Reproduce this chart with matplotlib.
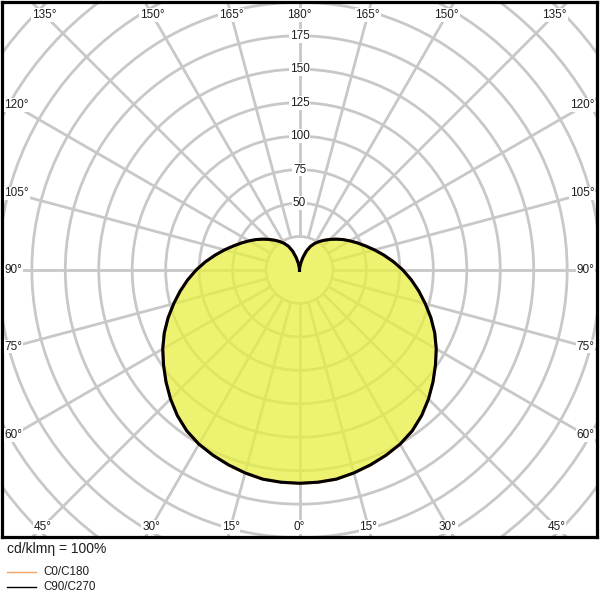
import numpy as np
import matplotlib
matplotlib.use("Agg")
import matplotlib.pyplot as plt
from matplotlib.patches import Circle

plt.rcParams['font.family'] = ['Liberation Sans', 'DejaVu Sans']

######### Data #########

# gamma = 0 is straight down, 180 straight up; values in cd/klm
gamma = [0, 5, 10, 15, 20, 25, 30, 35, 40, 45, 50, 55, 60, 65, 70, 75, 80, 85, 90,
         95, 100, 105, 110, 115, 120, 125, 130, 135, 140, 145, 150, 155, 160, 165,
         170, 175, 180]
c0_c180 = [159.4, 159.2, 158.7, 157, 155, 152.8, 150.3, 146.8, 142, 136.3, 130.2,
           124, 118, 111.5, 104.5, 97.3, 90.5, 83.8, 77.2, 70.5, 64, 58, 52.5, 47.8,
           43.5, 39.6, 35.8, 32.3, 29, 26, 23, 19.5, 15, 9.5, 5, 2, 0]
c90_c270 = [159.4, 159.2, 158.7, 157, 155, 152.8, 150.3, 146.8, 142, 136.3, 130.2,
            124, 118, 111.5, 104.5, 97.3, 90.5, 83.8, 77.2, 70.5, 64, 58, 52.5, 47.8,
            43.5, 39.6, 35.8, 32.3, 29, 26, 23, 19.5, 15, 9.5, 5, 2, 0]

rings = list(range(25, 325, 25))
ring_labels = [50, 75, 100, 125, 150, 175]
spokes = list(range(0, 360, 15))
top_labels = [135, 150, 165, 180]
side_labels = [120, 105, 90, 75, 60]
bottom_labels = [0, 15, 30, 45]

grid_col = '#c8c8c8'
text_col = '#1e1e1e'


def to_xy(g, r):
    # both halves of the plane, mirrored
    g = np.asarray(g, float)
    r = np.asarray(r, float)
    gg = np.concatenate([-g[::-1], g[1:]])
    rr = np.concatenate([r[::-1], r[1:]])
    t = np.radians(gg)
    return rr * np.sin(t), -rr * np.cos(t)


fig = plt.figure(figsize=(6, 6), dpi=100)
ax = fig.add_axes([2 / 600, 63 / 600, 595 / 600, 535 / 600])
ax.set_xlim(-222.3, 222.3)
ax.set_ylim(-199.5, 200.2)
ax.set_aspect('equal')
ax.set_xticks([])
ax.set_yticks([])
for s in ax.spines.values():
    s.set_color('black')
    s.set_linewidth(2.3)

######### Grid #########
for r in rings:
    ax.add_patch(Circle((0, 0), r, fill=False, ec=grid_col, lw=2.0, zorder=1))
for a in spokes:
    t = np.radians(a)
    ax.plot([25 * np.sin(t), 450 * np.sin(t)], [-25 * np.cos(t), -450 * np.cos(t)],
            color=grid_col, lw=2.0, zorder=1, solid_capstyle='butt')

######### Curves #########
x0, y0 = to_xy(gamma, c0_c180)
x90, y90 = to_xy(gamma, c90_c270)
ax.fill(x90, y90, color='#e8f040', alpha=0.75, lw=0, zorder=2)
ax.plot(x0, y0, color='#f4a060', lw=2.2, zorder=3)
ax.plot(x90, y90, color='black', lw=2.2, zorder=4, solid_joinstyle='round')

######### Labels #########
box = dict(facecolor='white', edgecolor='none', pad=0.6)
fs = 8.5

for v in ring_labels:
    ax.text(0, v, str(v), ha='center', va='center', fontsize=fs, color=text_col,
            bbox=box, zorder=5)

y_top = 190.5
for a in top_labels:
    dx = y_top * np.tan(np.radians(180 - a))
    xs = [0] if a == 180 else [-dx, dx]
    for x in xs:
        ax.text(x, y_top, f'{a}°', ha='center', va='center', fontsize=fs,
                color=text_col, bbox=box, zorder=5)

y_bot = -192
for a in bottom_labels:
    dx = -y_bot * np.tan(np.radians(a))
    xs = [0] if a == 0 else [-dx, dx]
    for x in xs:
        ax.text(x, y_bot, f'{a}°', ha='center', va='center', fontsize=fs,
                color=text_col, bbox=box, zorder=5)

x_side = 213.7
for a in side_labels:
    t = np.radians(a)
    y = -x_side * np.cos(t) / np.sin(t)
    ax.text(-220.5, y, f'{a}°', ha='left', va='center', fontsize=fs,
            color=text_col, bbox=box, zorder=5)
    ax.text(220.5, y, f'{a}°', ha='right', va='center', fontsize=fs,
            color=text_col, bbox=box, zorder=5)

######### Legend below #########
fig.text(7 / 600, 1 - 549 / 600, 'cd/klmη = 100%', ha='left', va='center',
         fontsize=10, color=text_col)
fig.add_artist(plt.Line2D([7 / 600, 36 / 600], [1 - 572 / 600] * 2,
                          color='#f4a060', lw=1.0))
fig.text(43 / 600, 1 - 572 / 600, 'C0/C180', ha='left', va='center',
         fontsize=8.4, color=text_col)
fig.add_artist(plt.Line2D([7 / 600, 36 / 600], [1 - 587 / 600] * 2,
                          color='black', lw=1.0))
fig.text(43 / 600, 1 - 587 / 600, 'C90/C270', ha='left', va='center',
         fontsize=8.4, color=text_col)

fig.savefig('out.png', dpi=100, facecolor='white')
